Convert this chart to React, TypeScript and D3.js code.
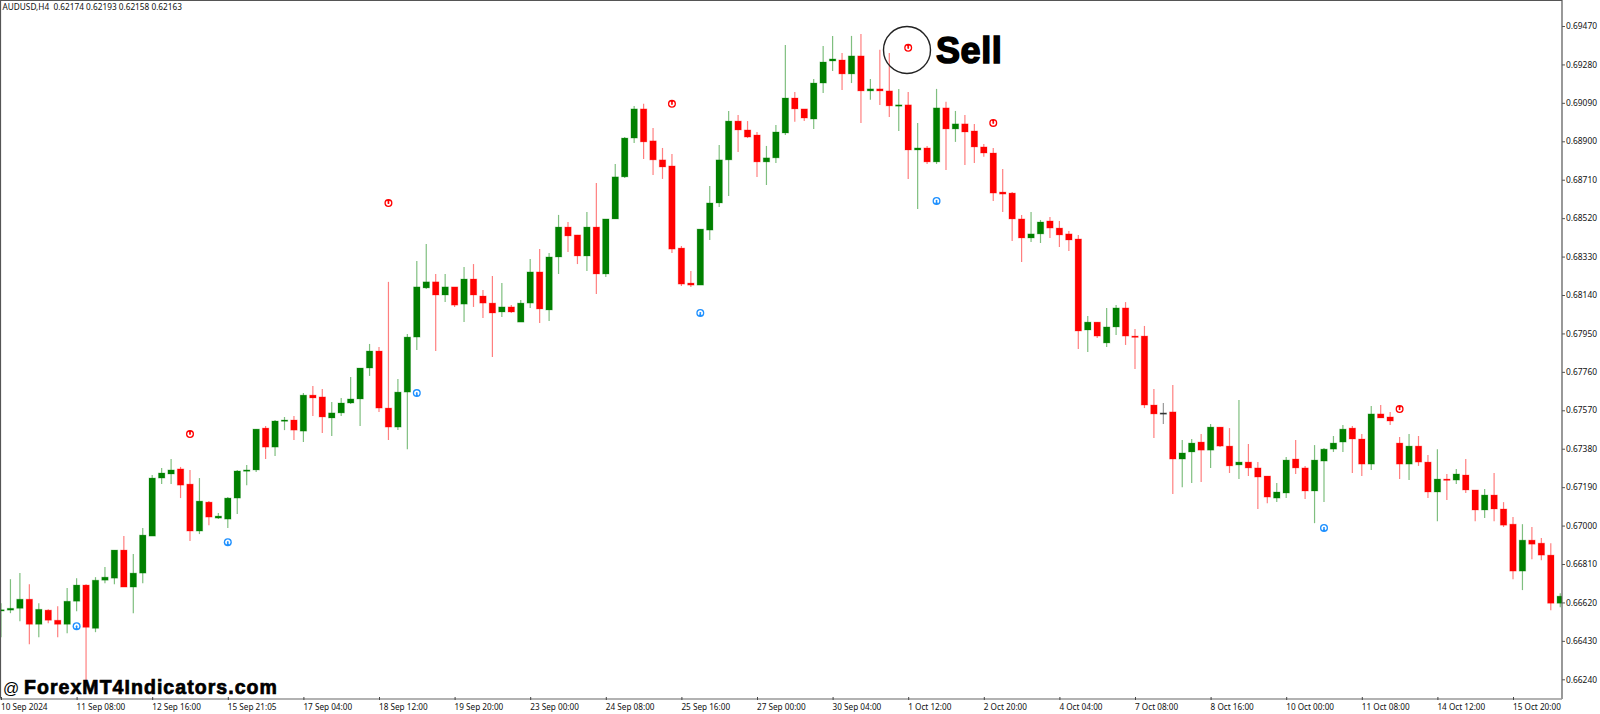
import React, { useEffect, useRef } from "react";
import * as d3 from "d3";

// AUDUSD H4, prices in points (1 point = 0.00001)
const highs = [
  66616, 66735, 66765, 66710, 66616, 66586, 66601, 66691, 66740, 66710,
  66745, 66795, 66879, 66948, 66859, 66988, 67250, 67285, 67329, 67290,
  67275, 67235, 67121, 67062, 67141, 67275, 67300, 67477, 67492, 67522,
  67537, 67542, 67655, 67690, 67675, 67611, 67631, 67735, 67779, 67898,
  67883, 68205, 67725, 67947, 68308, 68392, 68244, 68244, 68180, 68278,
  68293, 68165, 68234, 68199, 68090, 68115, 68318, 68367, 68348, 68536,
  68501, 68437, 68550, 68694, 68516, 68788, 68921, 69075, 69085, 68966,
  68867, 68837, 68382, 68259, 68466, 68679, 68882, 69050, 69030, 69000,
  68946, 68877, 68981, 69376, 69144, 69060, 69208, 69371, 69421, 69337,
  69421, 69431, 69208, 69352, 69337, 69159, 69144, 68991, 68877, 69159,
  69095, 69050, 69030, 68986, 68887, 68867, 68763, 68649, 68536, 68550,
  68511, 68526, 68506, 68456, 68437, 68036, 68006, 68076, 68090, 68105,
  67972, 67987, 67675, 67606, 67695, 67423, 67428, 67453, 67502, 67487,
  67482, 67621, 67403, 67314, 67245, 67210, 67339, 67423, 67295, 67398,
  67383, 67443, 67497, 67492, 67453, 67591, 67596, 67562, 67438, 67453,
  67443, 67349, 67378, 67255, 67280, 67329, 67176, 67181, 67260, 67116,
  67042, 67007, 66993, 66938, 66913, 66666,
];
const lows = [
  66448, 66567, 66527, 66413, 66448, 66517, 66448, 66468, 66577, 66230,
  66473, 66715, 66710, 66696, 66567, 66715, 66948, 67205, 67205, 67136,
  66924, 66958, 67002, 67032, 66988, 67057, 67200, 67265, 67329, 67344,
  67472, 67423, 67413, 67542, 67458, 67443, 67542, 67601, 67492, 67740,
  67562, 67423, 67472, 67378, 67868, 68170, 67863, 68105, 68081, 68006,
  68081, 68026, 67833, 68031, 68051, 68006, 68076, 68001, 68011, 68244,
  68353, 68293, 68259, 68145, 68229, 68516, 68719, 68892, 68813, 68733,
  68714, 68348, 68184, 68180, 68189, 68412, 68575, 68630, 68847, 68916,
  68724, 68684, 68793, 68931, 68996, 69000, 68961, 69139, 69248, 69154,
  69188, 68991, 69105, 69080, 69020, 68951, 68714, 68565, 68788, 68788,
  68758, 68897, 68783, 68793, 68823, 68605, 68550, 68407, 68303, 68402,
  68397, 68422, 68377, 68358, 67873, 67858, 67927, 67883, 67942, 67893,
  67774, 67581, 67433, 67502, 67156, 67190, 67210, 67215, 67285, 67388,
  67260, 67230, 67245, 67082, 67111, 67116, 67136, 67255, 67131, 67012,
  67116, 67364, 67364, 67260, 67245, 67275, 67532, 67497, 67230, 67225,
  67295, 67136, 67022, 67126, 67205, 67161, 67022, 67037, 67022, 66993,
  66735, 66681, 66834, 66829, 66582, 66596,
];
const opens = [
  66579, 66582, 66591, 66636, 66512, 66582, 66532, 66512, 66626, 66706,
  66492, 66730, 66740, 66879, 66696, 66765, 66948, 67235, 67255, 67280,
  67205, 66973, 67116, 67037, 67032, 67136, 67270, 67275, 67482, 67388,
  67517, 67522, 67467, 67645, 67636, 67532, 67557, 67606, 67626, 67779,
  67863, 67581, 67487, 67660, 67932, 68175, 68205, 68140, 68180, 68095,
  68219, 68135, 68100, 68056, 68081, 68006, 68100, 68254, 68066, 68328,
  68476, 68437, 68333, 68476, 68244, 68516, 68724, 68916, 69060, 68902,
  68808, 68778, 68372, 68199, 68189, 68461, 68595, 68808, 69000, 68956,
  68931, 68798, 68818, 68941, 69114, 69060, 69010, 69188, 69297, 69302,
  69233, 69322, 69149, 69159, 69149, 69075, 69080, 68857, 68867, 68798,
  69065, 68961, 68986, 68951, 68872, 68842, 68649, 68644, 68516, 68422,
  68442, 68506, 68471, 68442, 68417, 67967, 68006, 67903, 67982, 68076,
  67937, 67937, 67596, 67557, 67562, 67329, 67364, 67413, 67373, 67487,
  67393, 67300, 67314, 67285, 67245, 67136, 67161, 67329, 67285, 67171,
  67319, 67378, 67413, 67482, 67428, 67304, 67552, 67537, 67408, 67304,
  67393, 67314, 67166, 67230, 67225, 67250, 67176, 67077, 67151, 67082,
  67007, 66775, 66928, 66913, 66854, 66616,
];
const closes = [
  66584, 66591, 66636, 66512, 66586, 66532, 66512, 66626, 66706, 66497,
  66730, 66745, 66879, 66696, 66765, 66953, 67235, 67260, 67275, 67200,
  66973, 67121, 67042, 67047, 67136, 67270, 67275, 67477, 67388, 67517,
  67522, 67472, 67645, 67631, 67537, 67557, 67606, 67626, 67779, 67863,
  67581, 67487, 67660, 67932, 68180, 68205, 68140, 68180, 68090, 68219,
  68140, 68100, 68051, 68081, 68056, 68100, 68254, 68071, 68328, 68476,
  68432, 68333, 68476, 68244, 68516, 68724, 68916, 69060, 68897, 68808,
  68773, 68367, 68194, 68189, 68466, 68595, 68808, 69000, 68956, 68921,
  68798, 68818, 68946, 69114, 69060, 69015, 69188, 69292, 69307, 69233,
  69322, 69149, 69159, 69149, 69075, 69080, 68857, 68867, 68798, 69065,
  68961, 68986, 68946, 68872, 68842, 68644, 68639, 68516, 68422, 68442,
  68501, 68471, 68437, 68412, 67962, 68006, 67937, 67982, 68076, 67937,
  67932, 67596, 67552, 67557, 67329, 67359, 67408, 67373, 67487, 67393,
  67295, 67314, 67285, 67240, 67141, 67166, 67324, 67285, 67171, 67324,
  67378, 67408, 67477, 67428, 67304, 67552, 67532, 67517, 67304, 67393,
  67314, 67166, 67230, 67225, 67255, 67176, 67077, 67151, 67082, 67002,
  66775, 66928, 66908, 66854, 66616, 66651,
];

// [bar index, price]
const sellSignals = [[20, 67453], [41, 68595], [71, 69085], [96, 69362], [105, 68991], [148, 67576]];
const buySignals = [[8, 66502], [24, 66918], [44, 67655], [74, 68051], [99, 68605], [140, 66988]];

const timeLabels = [
  "10 Sep 2024", "11 Sep 08:00", "12 Sep 16:00", "15 Sep 21:05", "17 Sep 04:00", "18 Sep 12:00",
  "19 Sep 20:00", "23 Sep 00:00", "24 Sep 08:00", "25 Sep 16:00", "27 Sep 00:00", "30 Sep 04:00",
  "1 Oct 12:00", "2 Oct 20:00", "4 Oct 04:00", "7 Oct 08:00", "8 Oct 16:00", "10 Oct 00:00",
  "11 Oct 08:00", "14 Oct 12:00", "15 Oct 20:00",
];
const priceTicks = d3.range(66240, 69471, 190);

const width = 1600;
const height = 714;
const plotRight = 1562;
const plotBottom = 699;
const labelFont = "'Noto Sans', sans-serif";

export default function App() {
  const svgRef = useRef<SVGSVGElement>(null);

  useEffect(() => {
    const svg = d3.select(svgRef.current);
    svg.selectAll("*").remove();

    const x = d3.scaleLinear().domain([0, 160]).range([1, 1513]);
    const y = d3.scaleLinear().domain([66240, 69470]).range([679.3, 26]);

    svg.append("clipPath").attr("id", "plot")
      .append("rect").attr("x", 1).attr("y", 1).attr("width", plotRight - 1).attr("height", plotBottom - 1);

    const plot = svg.append("g").attr("clip-path", "url(#plot)");
    const bars = d3.range(opens.length);
    const color = (i) => (closes[i] > opens[i] ? "#008000" : closes[i] < opens[i] ? "#ff0000" : "#333333");

    // wicks look washed out in the source picture
    plot.append("g").selectAll("line").data(bars).join("line")
      .attr("x1", (i) => x(i)).attr("x2", (i) => x(i))
      .attr("y1", (i) => y(highs[i])).attr("y2", (i) => y(lows[i]))
      .attr("stroke", color).attr("stroke-width", 1.2).attr("stroke-opacity", 0.5);

    plot.append("g").selectAll("rect").data(bars).join("rect")
      .attr("x", (i) => x(i) - 3.2)
      .attr("width", 6.4)
      .attr("y", (i) => y(Math.max(opens[i], closes[i])))
      .attr("height", (i) => Math.max(1.3, Math.abs(y(opens[i]) - y(closes[i]))))
      .attr("fill", color)
      .attr("stroke", color).attr("stroke-opacity", 0.25).attr("stroke-width", 1);

    // signal markers: a disc with a white U cut into it, flipped for buys
    const slit = d3.arc().innerRadius(1).outerRadius(2.7);
    const drawSignals = (signals, fill, flip) => {
      const marks = plot.append("g").selectAll("g").data(signals).join("g")
        .attr("transform", ([i, p]) => `translate(${x(i)},${y(p)})`);
      marks.append("circle").attr("r", 4).attr("fill", fill);
      marks.append("path")
        .attr("d", () => slit({ startAngle: flip + 0.55, endAngle: flip + Math.PI * 2 - 0.55 }))
        .attr("fill", "#fff");
    };
    drawSignals(sellSignals, "#ff0000", 0);
    drawSignals(buySignals, "#1e90ff", Math.PI);

    // frame
    svg.append("path")
      .attr("d", `M0.5,${plotBottom}V0.5H${plotRight}V${plotBottom}`)
      .attr("fill", "none").attr("stroke", "#555").attr("stroke-width", 1.2);
    svg.append("line")
      .attr("x1", 0).attr("x2", plotRight).attr("y1", plotBottom).attr("y2", plotBottom)
      .attr("stroke", "#999").attr("stroke-width", 1.6);

    const yAxis = d3.axisRight(y).tickValues(priceTicks)
      .tickFormat((d) => (d / 100000).toFixed(5)).tickSize(3).tickPadding(1);
    svg.append("g").attr("transform", `translate(${plotRight},0)`).call(yAxis)
      .call((g) => g.select(".domain").remove())
      .call((g) => g.selectAll(".tick line").attr("stroke", "#555"))
      .call((g) => g.selectAll("text").attr("font-family", labelFont).attr("font-size", 8.4).attr("fill", "#111"));

    const xAxis = d3.axisBottom(x).tickValues(timeLabels.map((_, i) => i * 8))
      .tickFormat((d) => timeLabels[d / 8]).tickSize(0);
    svg.append("g").attr("transform", `translate(0,${plotBottom})`).call(xAxis)
      .call((g) => g.select(".domain").remove())
      .call((g) => g.selectAll("text")
        .attr("text-anchor", "start").attr("x", -0.5).attr("y", 5).attr("dy", "0.71em")
        .attr("font-family", labelFont).attr("font-size", 8.2).attr("fill", "#111"))
      .call((g) => g.selectAll(".tick").append("line")
        .attr("y1", -2).attr("y2", 1).attr("stroke", "#444"));

    svg.append("text").attr("x", 2.5).attr("y", 10)
      .attr("font-family", labelFont).attr("font-size", 8.25).attr("fill", "#111")
      .attr("xml:space", "preserve")
      .text("AUDUSD,H4  0.62174 0.62193 0.62158 0.62163");

    svg.append("circle")
      .attr("cx", 907).attr("cy", 50).attr("r", 23.5)
      .attr("fill", "none").attr("stroke", "#222").attr("stroke-width", 1.4);

    svg.append("text").attr("x", 936).attr("y", 63)
      .attr("font-family", "'Liberation Sans', sans-serif").attr("font-weight", 700).attr("font-size", 36)
      .attr("fill", "#000").attr("stroke", "#000").attr("stroke-width", 1.5).attr("letter-spacing", 0.6)
      .text("Sell");

    const mark = svg.append("text").attr("y", 694)
      .attr("font-family", "'Liberation Sans', sans-serif").attr("fill", "#000");
    mark.append("tspan").attr("x", 3).attr("font-size", 16).text("@");
    mark.append("tspan").attr("x", 24).attr("font-size", 19.5).attr("font-weight", 700)
      .attr("stroke", "#000").attr("stroke-width", 0.7).attr("letter-spacing", 1.05)
      .text("ForexMT4Indicators.com");
  }, []);

  return (
    <svg
      ref={svgRef}
      width={width}
      height={height}
      viewBox={`0 0 ${width} ${height}`}
      style={{ position: "absolute", left: 0, top: 0, background: "#fff" }}
    />
  );
}
